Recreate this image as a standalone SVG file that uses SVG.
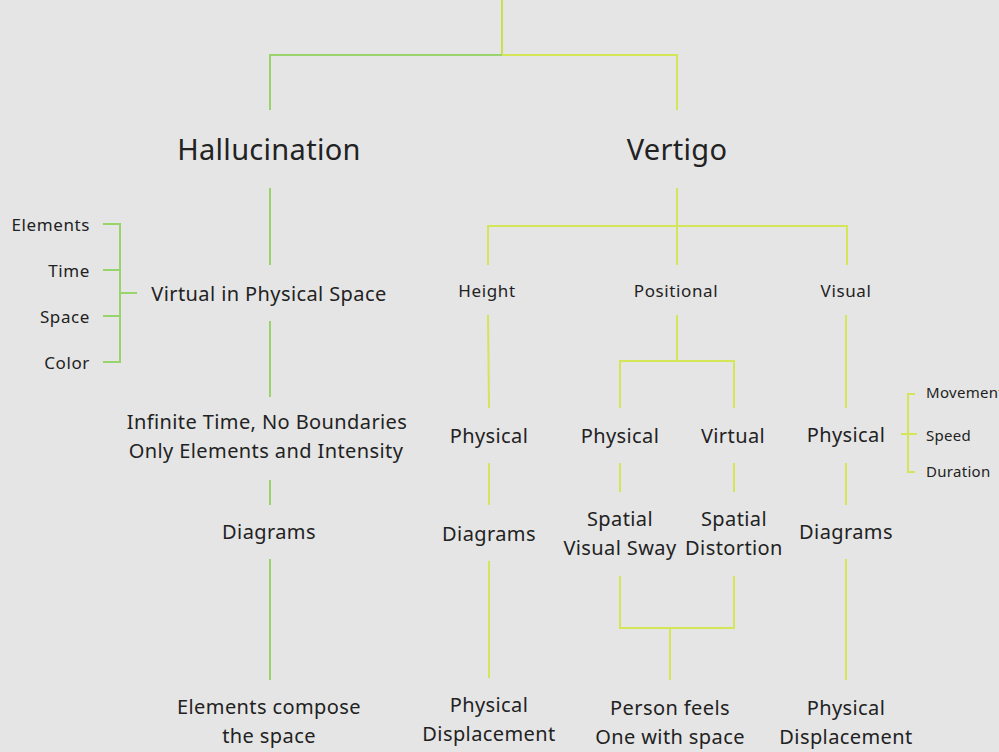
<svg xmlns="http://www.w3.org/2000/svg" width="999" height="752" viewBox="0 0 999 752">
<style>
text{font-family:"Noto Sans","Open Sans",sans-serif;fill:#222;text-anchor:middle}
.h{font-size:29px;letter-spacing:0.3px}
.m{font-size:20px;letter-spacing:0.4px}
.s{font-size:17px;letter-spacing:0.6px}
.xs{font-size:15px;letter-spacing:0.3px;text-anchor:start}
.r{text-anchor:end}
.g{stroke:#98d46a;stroke-width:2;fill:none}
.y{stroke:#d4e557;stroke-width:2;fill:none}
.t{stroke:#c9e04a;stroke-width:2;fill:none}
</style>
<rect width="999" height="752" fill="#e5e5e5"/>
<g id="connectors">
<path class="t" d="M502 0V55"/>
<path class="g" d="M502 55H270V110"/>
<path class="y" d="M502 55H677V110"/>
<path class="g" d="M270 188V265M270 321V397M270 480V505M270 559V680"/>
<path class="g" d="M103 224H120V362H103M103 270H120M103 316H120M120 293H137"/>
<path class="y" d="M677 188V265M488 265V226H847V265"/>
<path class="y" d="M488 315L489 408M677 315V361M620 408V361H734V408M846 315V408"/>
<path class="y" d="M489 463V505M620 463V492M734 463V492M846 463V505"/>
<path class="y" d="M489 561V678M620 576V628H734V576M670 628V680M846 559V680"/>
<path class="y" d="M915 394H908V472H915M901 434H917"/>
</g>
<g id="hallucination"><text class="h" x="269" y="160">Hallucination</text></g>
<g id="vertigo"><text class="h" x="677" y="160">Vertigo</text></g>
<g id="virtual-physical"><text class="m" x="269" y="301">Virtual in Physical Space</text></g>
<g id="elements"><text class="s r" x="90" y="231">Elements</text></g>
<g id="time"><text class="s r" x="90" y="277">Time</text></g>
<g id="space"><text class="s r" x="90" y="323">Space</text></g>
<g id="color"><text class="s r" x="90" y="369">Color</text></g>
<g id="infinite"><text class="m" x="267" y="429">Infinite Time, No Boundaries</text><text class="m" x="266" y="458">Only Elements and Intensity</text></g>
<g id="diagrams-h"><text class="m" x="269" y="539">Diagrams</text></g>
<g id="elements-compose"><text class="m" x="269" y="714">Elements compose</text><text class="m" x="269" y="743">the space</text></g>
<g id="height"><text class="s" x="487" y="297">Height</text></g>
<g id="positional"><text class="s" x="676" y="297">Positional</text></g>
<g id="visual"><text class="s" x="846" y="297">Visual</text></g>
<g id="physical-height"><text class="m" x="489" y="443">Physical</text></g>
<g id="physical-pos"><text class="m" x="620" y="443">Physical</text></g>
<g id="virtual-pos"><text class="m" x="733" y="443">Virtual</text></g>
<g id="physical-visual"><text class="m" x="846" y="442">Physical</text></g>
<g id="movement"><text class="xs" x="926" y="398">Movement</text></g>
<g id="speed"><text class="xs" x="926" y="441">Speed</text></g>
<g id="duration"><text class="xs" x="926" y="477">Duration</text></g>
<g id="diagrams-height"><text class="m" x="489" y="541">Diagrams</text></g>
<g id="spatial-sway"><text class="m" x="620" y="526">Spatial</text><text class="m" x="620" y="555">Visual Sway</text></g>
<g id="spatial-distortion"><text class="m" x="734" y="526">Spatial</text><text class="m" x="734" y="555">Distortion</text></g>
<g id="diagrams-visual"><text class="m" x="846" y="539">Diagrams</text></g>
<g id="displacement-height"><text class="m" x="489" y="712">Physical</text><text class="m" x="489" y="741">Displacement</text></g>
<g id="person-feels"><text class="m" x="670" y="715">Person feels</text><text class="m" x="670" y="744">One with space</text></g>
<g id="displacement-visual"><text class="m" x="846" y="715">Physical</text><text class="m" x="846" y="744">Displacement</text></g>
</svg>
